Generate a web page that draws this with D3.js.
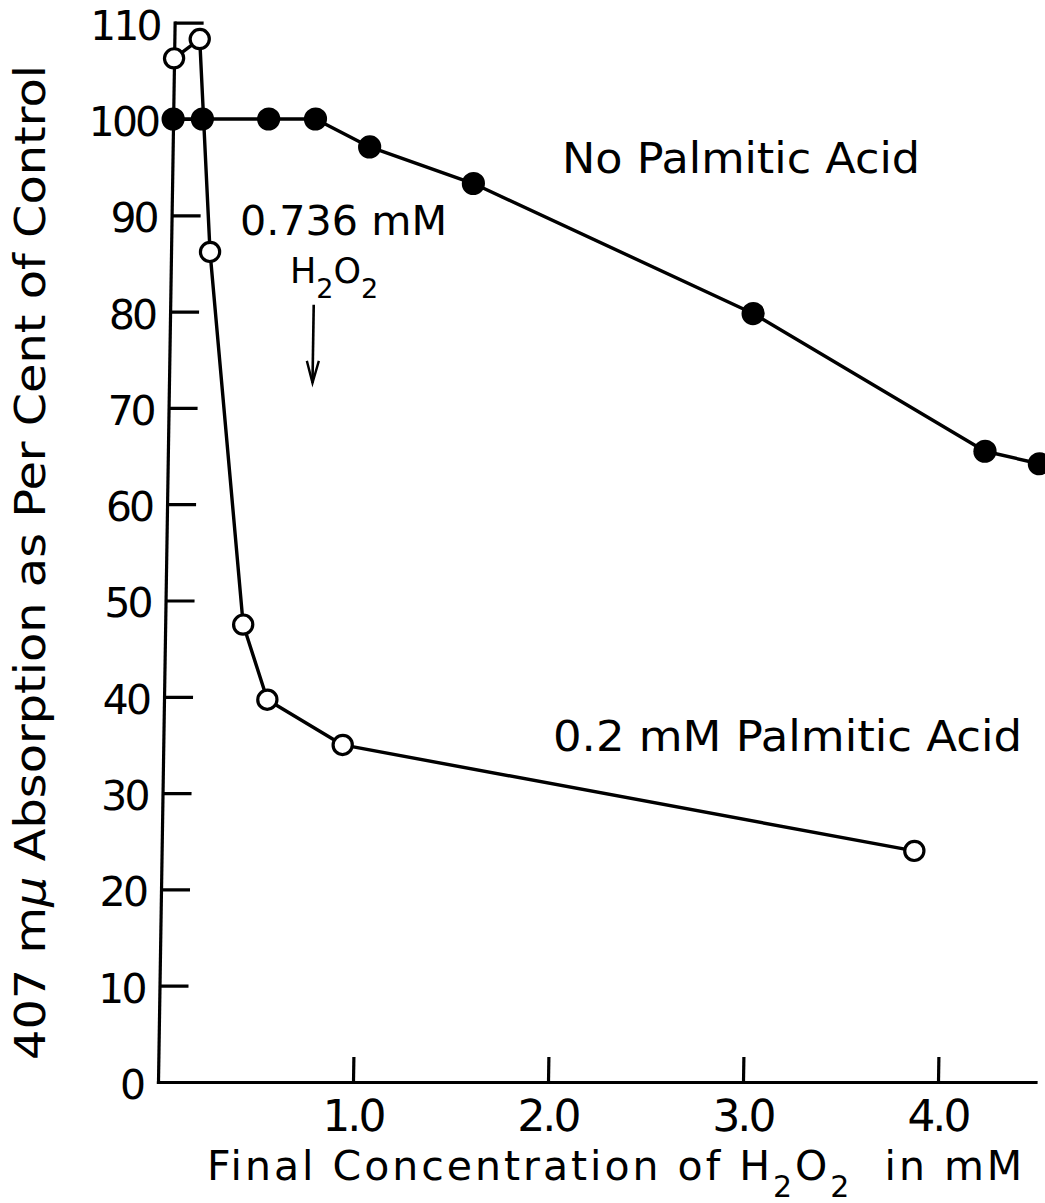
<!DOCTYPE html>
<html>
<head>
<meta charset="utf-8">
<script src="https://cdn.jsdelivr.net/npm/d3@7"></script>
<style>
  html, body { margin: 0; padding: 0; background: #fff; }
  svg { display: block; }
</style>
</head>
<body>
<svg id="chart" width="1045" height="1203"></svg>
<script>
// Tick values
const xTicks = [1, 2, 3, 4];
const yTicks = [0, 10, 20, 30, 40, 50, 60, 70, 80, 90, 100, 110];

// Series: no palmitic acid (filled circles)
const noPalmiticConc = [0, 0.15, 0.49, 0.73, 1.01, 1.545, 2.99, 4.19, 4.47];
const noPalmiticPct  = [100, 100, 100, 100, 97.1, 93.3, 79.8, 65.5, 64.2];

// Series: 0.2 mM palmitic acid (open circles)
const palmiticConc = [0, 0.13, 0.2, 0.40, 0.53, 0.92, 3.86];
const palmiticPct  = [106.3, 108.3, 86.2, 47.5, 39.7, 35.0, 24.0];

// Arrow marking the 0.736 mM H2O2 concentration (x value, arrow top, arrow tip)
const arrowConc = 0.736;
const arrowFrom = 80.7;
const arrowTo = 72.6;

const FONT = "'DejaVu Sans', sans-serif";
const svg = d3.select("#chart");
svg.append("rect").attr("width", 1045).attr("height", 1203).attr("fill", "#fff");

const x = d3.scaleLinear().domain([0, 4.5]).range([158, 1035.5]);
const y = d3.scaleLinear().domain([0, 110]).range([1082, 22.7]);

// The plotted frame leans slightly, like the hand-drafted original
const plot = svg.append("g")
  .attr("transform", `translate(0,${y(0)}) skewX(-0.9) translate(0,${-y(0)})`);

function styleAxis(g, size, spacing) {
  g.selectAll("path, line").attr("stroke", "#000").attr("stroke-width", 3.2);
  g.select(".domain").attr("stroke-linecap", "square");
  g.selectAll("text")
    .attr("fill", "#000")
    .style("font-family", FONT)
    .style("font-size", size + "px")
    .style("letter-spacing", spacing + "px");
}

const yAxis = plot.append("g")
  .attr("transform", `translate(${x(0)},0)`)
  .call(d3.axisLeft(y).tickValues(yTicks).tickSize(-29).tickSizeOuter(0).tickPadding(15));
styleAxis(yAxis, 41, -3);
yAxis.selectAll(".tick text").attr("dy", "0.4em");

const xAxis = plot.append("g")
  .attr("transform", `translate(0,${y(0)})`)
  .call(d3.axisBottom(x).tickValues(xTicks).tickSize(-25).tickSizeOuter(0).tickPadding(18)
    .tickFormat(d3.format(".1f")));
styleAxis(xAxis, 44, -3);

const line = d3.line().x(d => x(d[0])).y(d => y(d[1]));
const noPalm = noPalmiticConc.map((c, i) => [c, noPalmiticPct[i]]);
const palm = palmiticConc.map((c, i) => [c, palmiticPct[i]]);

[noPalm, palm].forEach(s => {
  plot.append("path").datum(s).attr("d", line)
    .attr("fill", "none").attr("stroke", "#000").attr("stroke-width", 3.4)
    .attr("stroke-linejoin", "round");
});

plot.selectAll("circle.open").data(palm).join("circle")
  .attr("class", "open")
  .attr("cx", d => x(d[0])).attr("cy", d => y(d[1])).attr("r", 9.6)
  .attr("fill", "#fff").attr("stroke", "#000").attr("stroke-width", 3.2);

plot.selectAll("circle.filled").data(noPalm).join("circle")
  .attr("class", "filled")
  .attr("cx", d => x(d[0])).attr("cy", d => y(d[1])).attr("r", 11.6)
  .attr("fill", "#000");

// Arrow
const ax = x(arrowConc), ay0 = y(arrowFrom), ay1 = y(arrowTo);
plot.append("line").attr("x1", ax).attr("x2", ax).attr("y1", ay0).attr("y2", ay1)
  .attr("stroke", "#000").attr("stroke-width", 2.6);
plot.append("path")
  .attr("d", `M${ax - 6},${ay1 - 22}L${ax},${ay1}L${ax + 6},${ay1 - 22}`)
  .attr("fill", "none").attr("stroke", "#000").attr("stroke-width", 2.4)
  .attr("stroke-linejoin", "miter");

// Text labels
function label(txt, px, py, size, len) {
  const t = svg.append("text").attr("x", px).attr("y", py)
    .attr("fill", "#000").style("font-family", FONT).style("font-size", size + "px")
    .text(txt);
  if (len) t.attr("textLength", len).attr("lengthAdjust", "spacingAndGlyphs");
  return t;
}

label("No Palmitic Acid", 562, 173, 43, 358);
label("0.2 mM Palmitic Acid", 553, 751, 43, 469);
label("0.736 mM", 240, 235, 41, 207);

// H2O2 under the concentration annotation
const h2o2 = svg.append("text").attr("x", 290).attr("y", 283)
  .attr("fill", "#000").style("font-family", FONT).style("font-size", "35px");
h2o2.append("tspan").text("H");
h2o2.append("tspan").attr("dy", 15).style("font-size", "27px").text("2");
h2o2.append("tspan").attr("dy", -15).text("O");
h2o2.append("tspan").attr("dy", 15).style("font-size", "27px").text("2");

// X axis title
const xt = svg.append("text").attr("x", 207).attr("y", 1180)
  .attr("fill", "#000").style("font-family", FONT).style("font-size", "41px")
  .style("letter-spacing", "3px");
xt.append("tspan").text("Final Concentration of H");
xt.append("tspan").attr("dy", 17).style("font-size", "30px").text("2");
xt.append("tspan").attr("dy", -17).text("O");
xt.append("tspan").attr("dy", 17).style("font-size", "30px").text("2");
xt.append("tspan").attr("dy", -17).text("\u00a0\u00a0in mM");

// Y axis title
const yt = svg.append("text")
  .attr("transform", "translate(45,562.5) rotate(-90)")
  .attr("text-anchor", "middle")
  .attr("fill", "#000").style("font-family", FONT).style("font-size", "42px")
  .attr("textLength", 995).attr("lengthAdjust", "spacingAndGlyphs");
yt.append("tspan").text("407 m");
yt.append("tspan").style("font-style", "italic").text("\u03bc");
yt.append("tspan").text(" Absorption as Per Cent of Control");
</script>
</body>
</html>
